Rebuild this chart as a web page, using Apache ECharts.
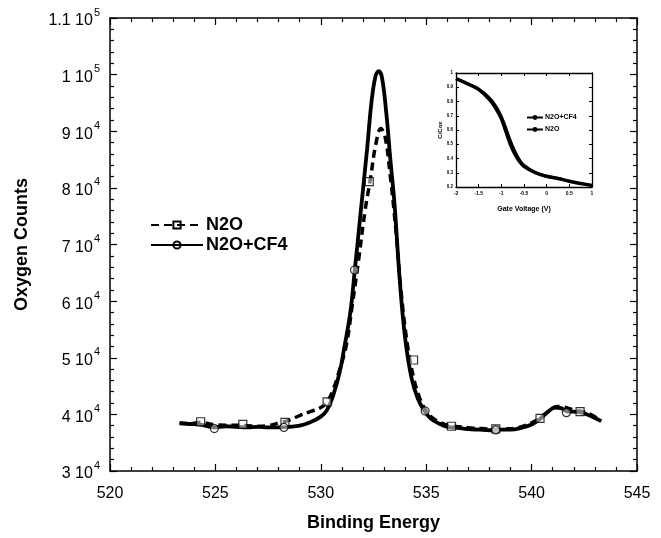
<!DOCTYPE html>
<html><head><meta charset="utf-8">
<script src="https://cdn.jsdelivr.net/npm/echarts@6/dist/echarts.min.js"></script>
<style>html,body{margin:0;padding:0;background:#fff}#c{width:661px;height:538px}</style>
</head><body><div id="c"></div>
<script>
// ---- Main chart data ----
const energyCF4 = [523.3,523.8,524.3,524.9,525.5,526.0,526.5,527.0,527.5,528.0,528.5,529.0,529.5,530.0,530.3,530.6,530.9,531.1,531.4,531.6,531.9,532.2,532.4,532.6,532.75,532.9,533.1,533.3,533.5,533.75,534.0,534.3,534.6,534.9,535.2,535.6,536.0,536.5,537.0,537.5,538.0,538.5,539.0,539.5,540.0,540.4,540.8,541.1,541.4,541.7,542.0,542.4,542.8,543.3];
const countsCF4 = [38400,38300,38200,37700,37900,37800,37700,37800,37700,37700,37800,38000,38600,39600,40800,43500,47500,51500,58000,65000,76000,87000,95000,99800,100600,99500,93500,85000,77000,63500,53500,46500,42800,40700,39300,38400,37800,37600,37400,37300,37200,37300,37300,37600,38200,39200,40500,41200,41100,40500,40500,40300,39700,38800];
const energyN2O = [523.3,523.8,524.3,524.9,525.5,526.0,526.5,527.0,527.5,528.0,528.5,529.0,529.5,530.0,530.3,530.6,530.9,531.2,531.5,531.8,532.1,532.35,532.6,532.85,533.05,533.3,533.55,533.8,534.1,534.4,534.7,535.0,535.3,535.7,536.1,536.6,537.1,537.6,538.1,538.6,539.1,539.6,540.1,540.5,540.9,541.2,541.5,541.8,542.1,542.5,542.9,543.3];
const countsN2O = [38500,38400,38600,38200,38100,38100,38000,37900,38000,38500,39000,39800,40500,41200,42200,44500,48000,52000,59500,67500,76000,81500,87500,90500,89000,82000,73000,62000,52500,46500,42800,40600,39400,38500,38000,37800,37600,37500,37400,37400,37500,37900,38700,39700,40800,41400,41300,41000,40700,40400,39800,38800];
// marker positions
const markerEnergyN2O = [524.3,526.3,528.3,530.3,532.3,534.4,536.2,538.3,540.4,542.3];
const markerCountsN2O = [38700,38250,38600,42200,81100,49600,37900,37450,39300,40500];
const markerEnergyCF4 = [524.95,528.25,531.6,534.95,538.3,541.65];
const markerCountsCF4 = [37500,37700,65500,40600,37250,40300];
// y tick labels: mantissa and exponent
const yTickMant = ['3','4','5','6','7','8','9','1','1.1'];
const yTickExp  = ['4','4','4','4','4','4','4','5','5'];

// ---- Inset data ----
const gateV   = [-2,-1.75,-1.5,-1.25,-1.1,-1.0,-0.9,-0.8,-0.7,-0.6,-0.5,-0.25,0,0.25,0.5,0.75,1.0];
const cCoxCF4 = [0.96,0.925,0.885,0.81,0.74,0.68,0.59,0.50,0.43,0.38,0.345,0.30,0.275,0.26,0.24,0.225,0.21];
const cCoxN2O = [0.96,0.925,0.89,0.825,0.76,0.70,0.62,0.53,0.455,0.395,0.355,0.305,0.278,0.262,0.242,0.226,0.212];

const zip = (a,b) => a.map((v,i)=>[v,b[i]]);
const FONT = 'Liberation Sans, Arial, Helvetica, sans-serif';
const BLACK = '#000';

function boxAxis(extra){
  return Object.assign({
    type:'value',
    axisLine:{show:true,onZero:false,lineStyle:{color:BLACK,width:1.5}},
    splitLine:{show:false},
  }, extra);
}

const chart = echarts.init(document.getElementById('c'), null, {renderer:'canvas'});
chart.setOption({
  backgroundColor:'#fff',
  animation:false,
  textStyle:{fontFamily:FONT},
  grid:[
    {left:110, right:24, top:18, bottom:67},
    {left:456, right:69, top:73, bottom:351}
  ],
  legend:[
    {
      data:['N2O','N2O+CF4'],
      orient:'vertical', left:145, top:211,
      itemWidth:52, itemHeight:9, itemGap:2,
      textStyle:{fontFamily:FONT,fontSize:18,fontWeight:'bold',color:BLACK,padding:[0,0,0,-2]}
    },
    {
      data:['N2O+CF4 ','N2O '],
      orient:'vertical', left:521, top:109,
      itemWidth:16, itemHeight:6, itemGap:5,
      textStyle:{fontFamily:FONT,fontSize:7,fontWeight:'bold',color:BLACK,padding:[0,0,0,-3]}
    }
  ],
  xAxis:[
    boxAxis({gridIndex:0,min:520,max:545,interval:5,position:'bottom',
      axisTick:{show:true,inside:true,length:7,lineStyle:{color:BLACK,width:1.2}},
      minorTick:{show:true,splitNumber:5,length:4,lineStyle:{color:BLACK,width:1.2}},
      axisLabel:{show:true,color:BLACK,fontSize:16,margin:15,fontFamily:FONT},
      name:'Binding Energy',nameLocation:'middle',nameGap:43,
      nameTextStyle:{fontFamily:FONT,fontSize:18,fontWeight:'bold',color:BLACK}}),
    boxAxis({gridIndex:0,min:520,max:545,interval:5,position:'top',
      axisTick:{show:true,inside:true,length:7,lineStyle:{color:BLACK,width:1.2}},
      minorTick:{show:true,splitNumber:5,length:4,lineStyle:{color:BLACK,width:1.2}},
      axisLabel:{show:false}}),
    boxAxis({gridIndex:1,min:-2,max:1,interval:0.5,position:'bottom',
      axisLine:{show:true,onZero:false,lineStyle:{color:BLACK,width:1.3}},
      axisTick:{show:true,inside:true,length:3,lineStyle:{color:BLACK,width:1}},
      axisLabel:{show:true,color:BLACK,fontSize:5,margin:4,fontWeight:'bold',fontFamily:FONT},
      name:'Gate Voltage (V)',nameLocation:'middle',nameGap:19,
      nameTextStyle:{fontFamily:FONT,fontSize:7,fontWeight:'bold',color:BLACK}}),
    boxAxis({gridIndex:1,min:-2,max:1,interval:0.5,position:'top',
      axisLine:{show:true,onZero:false,lineStyle:{color:BLACK,width:1.3}},
      axisTick:{show:true,inside:true,length:3,lineStyle:{color:BLACK,width:1}},
      axisLabel:{show:false}})
  ],
  yAxis:[
    boxAxis({gridIndex:0,min:30000,max:110000,interval:10000,position:'left',
      axisTick:{show:true,inside:true,length:7,lineStyle:{color:BLACK,width:1.2}},
      minorTick:{show:true,splitNumber:5,length:4,lineStyle:{color:BLACK,width:1.2}},
      axisLabel:{show:true,margin:10,
        formatter:(v,i)=>'{a|'+yTickMant[i]+' 10}{s|'+yTickExp[i]+'}',
        rich:{
          a:{fontFamily:FONT,fontSize:16,color:BLACK,verticalAlign:'bottom',lineHeight:22},
          s:{fontFamily:FONT,fontSize:11,color:BLACK,verticalAlign:'top',lineHeight:22,padding:[0,0,0,1]}
        }},
      name:'Oxygen Counts',nameLocation:'middle',nameGap:79,
      nameTextStyle:{fontFamily:FONT,fontSize:18,fontWeight:'bold',color:BLACK}}),
    boxAxis({gridIndex:0,min:30000,max:110000,interval:10000,position:'right',
      axisTick:{show:true,inside:true,length:7,lineStyle:{color:BLACK,width:1.2}},
      minorTick:{show:true,splitNumber:5,length:4,lineStyle:{color:BLACK,width:1.2}},
      axisLabel:{show:false}}),
    boxAxis({gridIndex:1,min:0.2,max:1,interval:0.1,position:'left',
      axisLine:{show:true,onZero:false,lineStyle:{color:BLACK,width:1.3}},
      axisTick:{show:true,inside:true,length:3,lineStyle:{color:BLACK,width:1}},
      axisLabel:{show:true,color:BLACK,fontSize:4.5,margin:3,fontWeight:'bold',fontFamily:FONT,
        formatter:v=>String(Math.round(v*10)/10)},
      name:'C/Cox',nameLocation:'middle',nameGap:12,
      nameTextStyle:{fontFamily:FONT,fontSize:6,fontWeight:'bold',color:BLACK}}),
    boxAxis({gridIndex:1,min:0.2,max:1,interval:0.1,position:'right',
      axisLine:{show:true,onZero:false,lineStyle:{color:BLACK,width:1.3}},
      axisTick:{show:true,inside:true,length:3,lineStyle:{color:BLACK,width:1}},
      axisLabel:{show:false}})
  ],
  series:[
    {name:'N2O',type:'line',xAxisIndex:0,yAxisIndex:0,smooth:0.4,
      data:zip(energyN2O,countsN2O),
      symbol:'rect',symbolSize:8,showSymbol:false,
      itemStyle:{color:'rgba(255,255,255,0)',borderColor:BLACK,borderWidth:1.2},
      lineStyle:{color:BLACK,width:3.5,type:[8,5]},z:3},
    {name:'N2O+CF4',type:'line',xAxisIndex:0,yAxisIndex:0,smooth:0.4,
      data:zip(energyCF4,countsCF4),
      symbol:'circle',symbolSize:8,showSymbol:false,
      itemStyle:{color:'rgba(255,255,255,0)',borderColor:BLACK,borderWidth:1.2},
      lineStyle:{color:BLACK,width:3.8},z:4},
    {type:'scatter',xAxisIndex:0,yAxisIndex:0,silent:true,
      data:zip(markerEnergyN2O,markerCountsN2O),symbol:'rect',symbolSize:8,
      itemStyle:{color:'rgba(255,255,255,0.6)',borderColor:BLACK,borderWidth:1.2},z:5},
    {type:'scatter',xAxisIndex:0,yAxisIndex:0,silent:true,
      data:zip(markerEnergyCF4,markerCountsCF4),symbol:'circle',symbolSize:8,
      itemStyle:{color:'rgba(255,255,255,0.6)',borderColor:BLACK,borderWidth:1.2},z:5},
    {name:'N2O+CF4 ',type:'line',xAxisIndex:2,yAxisIndex:2,smooth:0.4,
      data:zip(gateV,cCoxCF4),symbol:'circle',symbolSize:4,showSymbol:false,
      itemStyle:{color:BLACK},lineStyle:{color:BLACK,width:3.5}},
    {name:'N2O ',type:'line',xAxisIndex:2,yAxisIndex:2,smooth:0.4,
      data:zip(gateV,cCoxN2O),symbol:'circle',symbolSize:4,showSymbol:false,
      itemStyle:{color:BLACK},lineStyle:{color:BLACK,width:2.2}}
  ]
});
</script></body></html>
